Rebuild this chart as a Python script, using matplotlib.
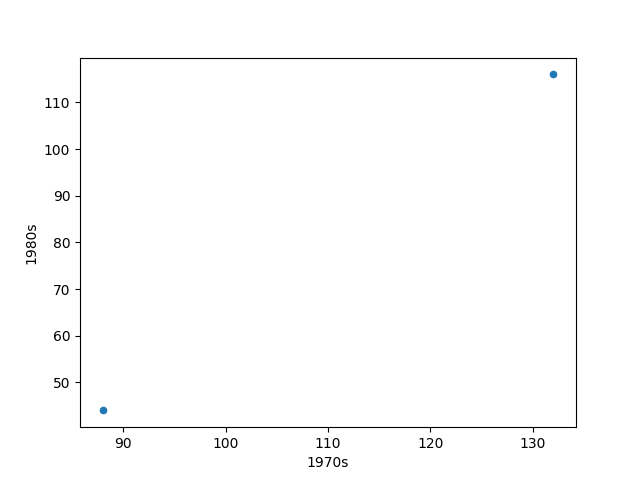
import pandas as pd
import matplotlib
matplotlib.use("Agg")
import matplotlib.pyplot as plt

decade_1970s = [88, 132]
decade_1980s = [44, 116]

df = pd.DataFrame({"1970s": decade_1970s, "1980s": decade_1980s})

fig, ax = plt.subplots(figsize=(6.4, 4.8), dpi=100)
df.plot.scatter(x="1970s", y="1980s", ax=ax)
fig.savefig("out.png")
